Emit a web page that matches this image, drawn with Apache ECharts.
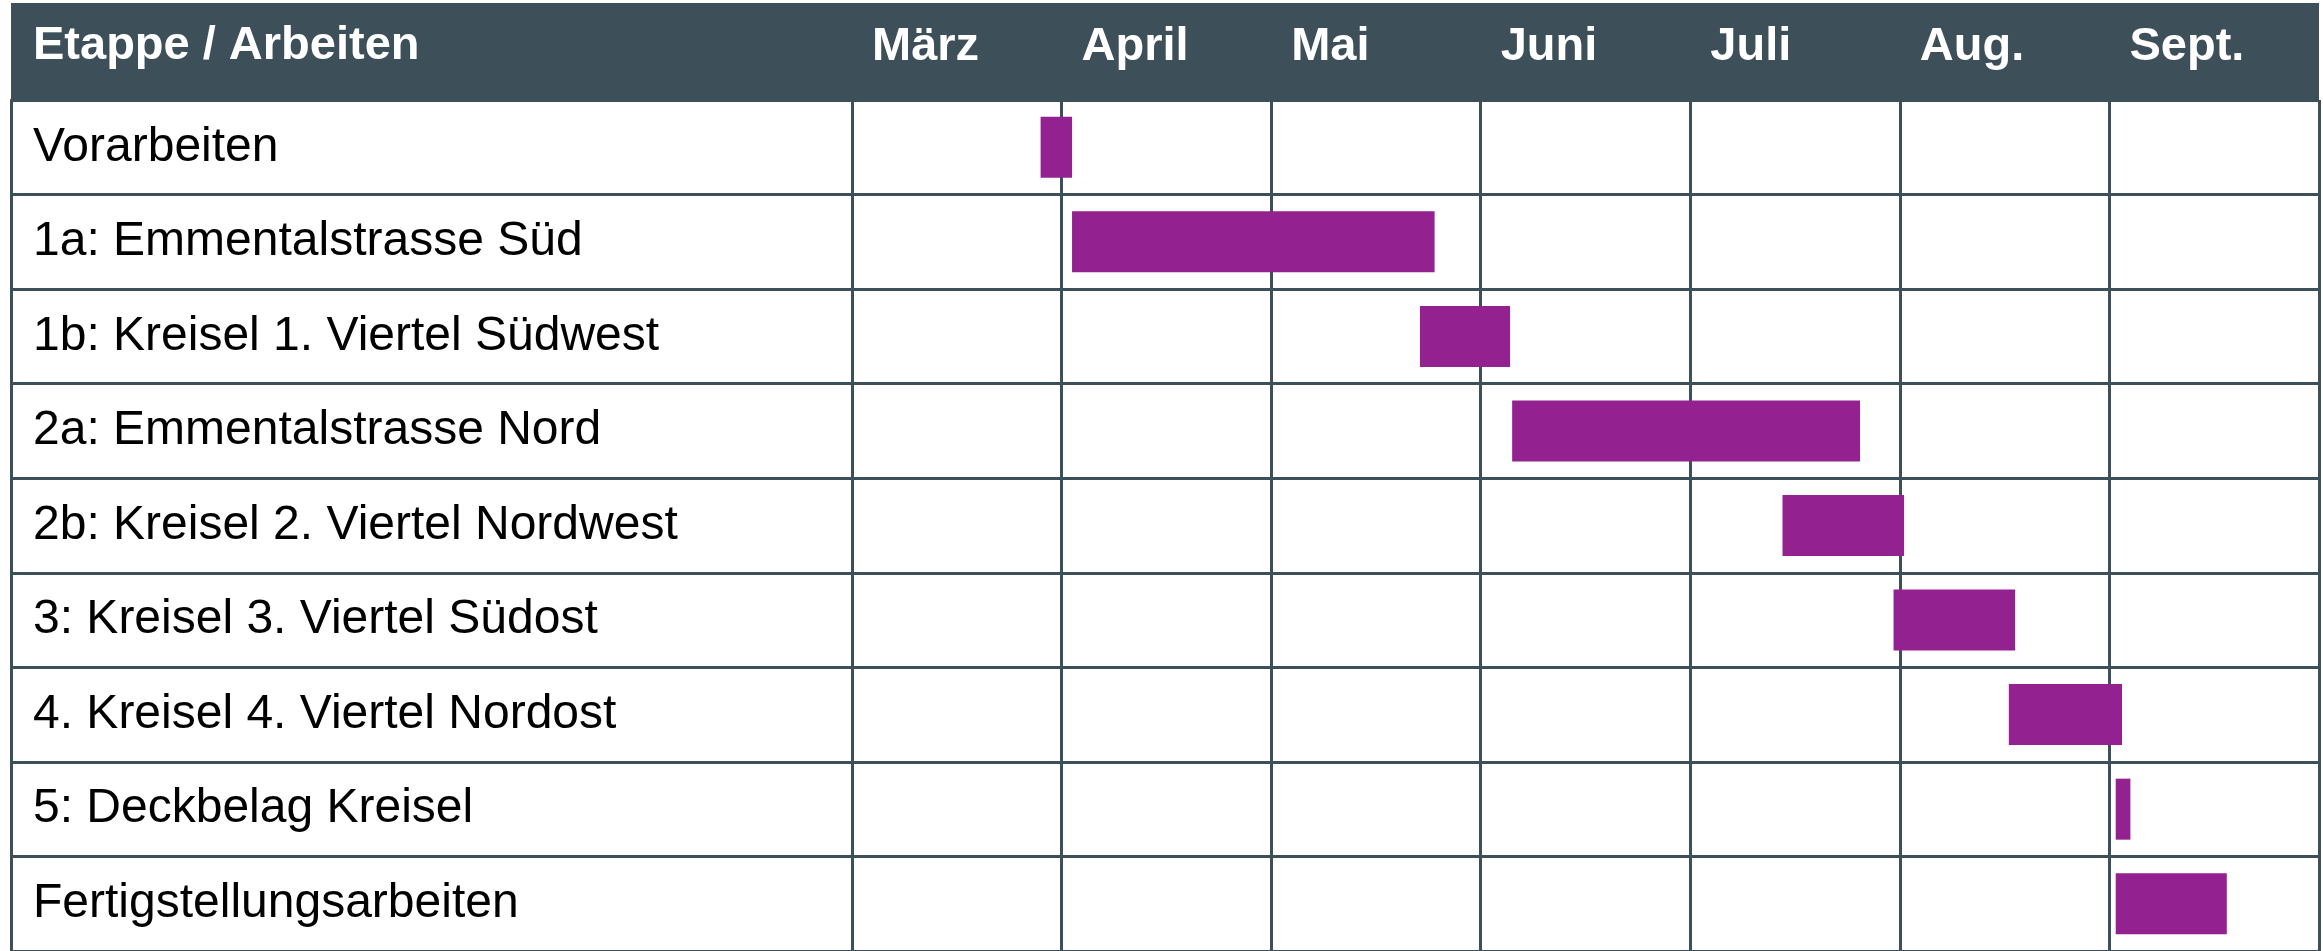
<!DOCTYPE html>
<html>
<head>
<meta charset="utf-8">
<style>
  html, body { margin: 0; padding: 0; background: #fff; }
  #main { width: 2323px; height: 951px; }
</style>
<script src="https://cdn.jsdelivr.net/npm/echarts@6/dist/echarts.min.js"></script>
</head>
<body>
<div id="main"></div>
<script>
// Etappen (von oben nach unten)
const tasks = [
  'Vorarbeiten',
  '1a: Emmentalstrasse Süd',
  '1b: Kreisel 1. Viertel Südwest',
  '2a: Emmentalstrasse Nord',
  '2b: Kreisel 2. Viertel Nordwest',
  '3: Kreisel 3. Viertel Südost',
  '4. Kreisel 4. Viertel Nordost',
  '5: Deckbelag Kreisel',
  'Fertigstellungsarbeiten'
];
// Monatsnummern (3 = Anfang März)
const starts = [3.90, 4.05, 5.71, 6.15, 7.44, 7.97, 8.52, 9.03, 9.03];
const ends   = [4.05, 5.78, 6.14, 7.81, 8.02, 8.55, 9.06, 9.10, 9.56];
const months = { 3: 'März', 4: 'April', 5: 'Mai', 6: 'Juni', 7: 'Juli', 8: 'Aug.', 9: 'Sept.' };

const dark = '#3d4f59';
const purple = '#93218f';
const durations = ends.map((e, i) => +(e - starts[i]).toFixed(2));

const chart = echarts.init(document.getElementById('main'));

const option = {
  animation: false,
  textStyle: { fontFamily: 'Liberation Sans, Arial, sans-serif' },
  graphic: [
    {
      type: 'rect',
      z: -10,
      shape: { x: 11, y: 3, width: 2308, height: 97 },
      style: { fill: dark }
    }
  ],
  title: {
    text: 'Etappe / Arbeiten',
    left: 33,
    top: 23,
    padding: 0,
    textStyle: { color: '#fff', fontSize: 47, fontWeight: 'bold', fontFamily: 'Liberation Sans, Arial, sans-serif' }
  },
  grid: [
    { left: 11, width: 841, top: 100, height: 855, containLabel: false },
    { left: 852, right: 4, top: 100, height: 855, containLabel: false }
  ],
  xAxis: [
    { gridIndex: 0, type: 'value', show: false },
    {
      gridIndex: 1,
      type: 'value',
      position: 'top',
      min: 3,
      max: 10,
      interval: 1,
      axisLine: { show: false },
      axisTick: { show: false },
      splitLine: { show: true, lineStyle: { color: dark, width: 3 } },
      axisLabel: {
        showMaxLabel: true,
        margin: 53,
        align: 'left',
        verticalAlign: 'middle',
        padding: [0, 0, 0, 20],
        color: '#fff',
        fontSize: 47,
        fontWeight: 'bold',
        formatter: v => months[v] || ''
      }
    }
  ],
  yAxis: [
    {
      gridIndex: 0,
      type: 'category',
      inverse: true,
      data: tasks,
      axisLine: { show: true, lineStyle: { color: dark, width: 3 } },
      axisTick: { show: false },
      splitLine: { show: true, lineStyle: { color: dark, width: 3 } },
      axisLabel: {
        inside: true,
        margin: 22,
        color: '#000',
        fontSize: 48,
        padding: [0, 0, 10, 0]
      }
    },
    {
      gridIndex: 1,
      type: 'category',
      inverse: true,
      data: tasks,
      axisLine: { show: true, lineStyle: { color: dark, width: 3 } },
      axisTick: { show: false },
      axisLabel: { show: false },
      splitLine: { show: true, lineStyle: { color: dark, width: 3 } }
    }
  ],
  series: [
    {
      name: 'Beginn',
      type: 'bar',
      xAxisIndex: 1,
      yAxisIndex: 1,
      stack: 'plan',
      barWidth: 61,
      itemStyle: { color: 'transparent' },
      data: starts
    },
    {
      name: 'Dauer',
      type: 'bar',
      xAxisIndex: 1,
      yAxisIndex: 1,
      stack: 'plan',
      barWidth: 61,
      itemStyle: { color: purple },
      data: durations
    }
  ]
};

chart.setOption(option);
window.addEventListener('resize', () => chart.resize());
</script>
</body>
</html>
